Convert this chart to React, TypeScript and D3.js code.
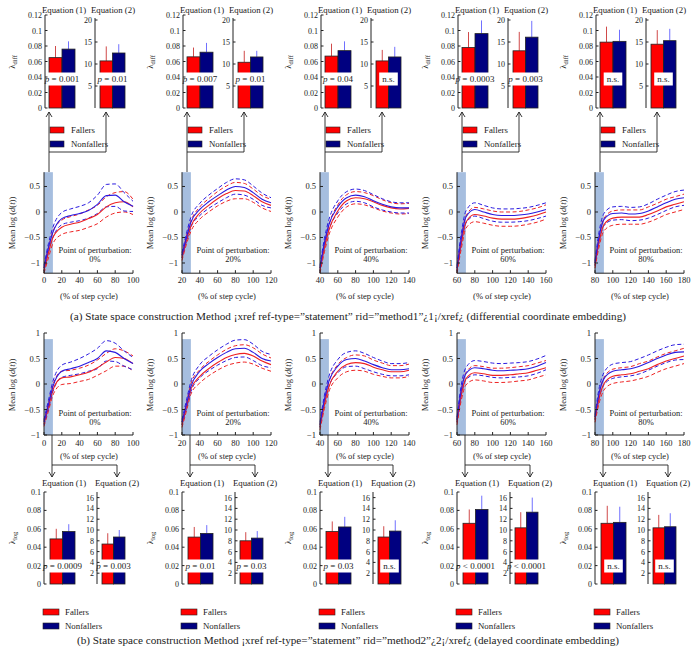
import React from "react";
import * as d3 from "d3";

const W = 696;
const H = 656;
const FONT = "'Liberation Serif', 'DejaVu Serif', serif";

// ---------- shared categories ----------
const perturbStarts = [0, 20, 40, 60, 80];
const perturbLabels = ["0%", "20%", "40%", "60%", "80%"];
const sampleOffsets = [0, 5, 10, 20, 30, 40, 50, 60, 70, 80, 90, 100];
const xTickOffsets = [0, 20, 40, 60, 80, 100];
const seriesNames = ["Fallers", "Nonfallers"];

// ---------- (a) differential embedding: curves ----------
const diffNonfallersMean = [
  [-1.1, -0.7, -0.4, -0.13, -0.07, -0.03, 0.03, 0.15, 0.32, 0.33, 0.2, 0.11],
  [-0.85, -0.5, -0.2, 0.05, 0.2, 0.32, 0.43, 0.5, 0.48, 0.38, 0.25, 0.18],
  [-1.1, -0.6, -0.25, 0.1, 0.28, 0.33, 0.3, 0.22, 0.15, 0.1, 0.08, 0.08],
  [-1.1, -0.5, -0.1, 0.05, 0.0, -0.05, -0.07, -0.07, -0.06, -0.04, 0.0, 0.05],
  [-1.0, -0.45, -0.15, -0.03, -0.02, -0.04, -0.03, 0.02, 0.1, 0.18, 0.25, 0.28],
];
const diffNonfallersSD = [
  [0.05, 0.08, 0.1, 0.12, 0.13, 0.14, 0.15, 0.18, 0.22, 0.22, 0.18, 0.1],
  [0.05, 0.08, 0.1, 0.12, 0.13, 0.14, 0.15, 0.15, 0.15, 0.13, 0.12, 0.1],
  [0.05, 0.08, 0.1, 0.12, 0.12, 0.12, 0.12, 0.12, 0.11, 0.1, 0.1, 0.1],
  [0.05, 0.1, 0.12, 0.13, 0.13, 0.13, 0.13, 0.13, 0.13, 0.13, 0.13, 0.13],
  [0.05, 0.1, 0.12, 0.13, 0.13, 0.13, 0.13, 0.14, 0.15, 0.15, 0.15, 0.15],
];
const diffFallersMean = [
  [-1.15, -0.8, -0.5, -0.3, -0.24, -0.2, -0.13, -0.05, 0.1, 0.18, 0.2, 0.1],
  [-0.9, -0.55, -0.28, -0.02, 0.13, 0.26, 0.36, 0.42, 0.41, 0.32, 0.2, 0.13],
  [-1.15, -0.7, -0.35, 0.02, 0.22, 0.28, 0.26, 0.2, 0.13, 0.08, 0.06, 0.07],
  [-1.15, -0.6, -0.2, -0.05, -0.08, -0.12, -0.14, -0.14, -0.13, -0.1, -0.06, 0.0],
  [-1.05, -0.55, -0.25, -0.12, -0.1, -0.1, -0.1, -0.05, 0.02, 0.1, 0.15, 0.2],
];
const diffFallersSD = [
  [0.05, 0.1, 0.12, 0.14, 0.15, 0.16, 0.17, 0.18, 0.2, 0.2, 0.2, 0.15],
  [0.05, 0.08, 0.1, 0.12, 0.13, 0.14, 0.15, 0.16, 0.15, 0.13, 0.12, 0.12],
  [0.05, 0.08, 0.1, 0.12, 0.12, 0.12, 0.12, 0.12, 0.11, 0.1, 0.1, 0.1],
  [0.05, 0.1, 0.12, 0.14, 0.14, 0.14, 0.14, 0.14, 0.14, 0.14, 0.14, 0.14],
  [0.05, 0.1, 0.12, 0.14, 0.14, 0.14, 0.14, 0.15, 0.15, 0.15, 0.15, 0.15],
];

// ---------- (b) delayed embedding: curves ----------
const logNonfallersMean = [
  [-0.75, -0.4, -0.05, 0.25, 0.3, 0.35, 0.42, 0.5, 0.65, 0.62, 0.5, 0.4],
  [-0.75, -0.4, -0.05, 0.25, 0.4, 0.52, 0.62, 0.69, 0.7, 0.62, 0.5, 0.45],
  [-0.8, -0.3, 0.05, 0.35, 0.48, 0.5, 0.45, 0.38, 0.32, 0.28, 0.28, 0.3],
  [-0.7, -0.1, 0.2, 0.32, 0.3, 0.27, 0.26, 0.27, 0.28, 0.3, 0.35, 0.42],
  [-0.65, -0.15, 0.1, 0.25, 0.28, 0.3, 0.35, 0.42, 0.5, 0.57, 0.62, 0.63],
];
const logNonfallersSD = [
  [0.05, 0.08, 0.1, 0.12, 0.13, 0.15, 0.17, 0.2, 0.2, 0.18, 0.15, 0.12],
  [0.05, 0.08, 0.1, 0.13, 0.14, 0.15, 0.16, 0.17, 0.17, 0.16, 0.14, 0.13],
  [0.05, 0.08, 0.1, 0.13, 0.14, 0.15, 0.15, 0.14, 0.13, 0.12, 0.12, 0.12],
  [0.05, 0.1, 0.12, 0.14, 0.14, 0.14, 0.14, 0.14, 0.14, 0.14, 0.14, 0.14],
  [0.05, 0.1, 0.12, 0.14, 0.14, 0.14, 0.15, 0.15, 0.15, 0.15, 0.15, 0.15],
];
const logFallersMean = [
  [-0.78, -0.45, -0.12, 0.12, 0.14, 0.18, 0.23, 0.32, 0.43, 0.52, 0.5, 0.4],
  [-0.8, -0.45, -0.1, 0.15, 0.3, 0.42, 0.52, 0.58, 0.6, 0.55, 0.45, 0.38],
  [-0.85, -0.4, -0.05, 0.25, 0.38, 0.42, 0.4, 0.33, 0.28, 0.24, 0.24, 0.27],
  [-0.75, -0.2, 0.1, 0.22, 0.2, 0.17, 0.17, 0.18, 0.2, 0.22, 0.27, 0.32],
  [-0.7, -0.25, 0.0, 0.15, 0.18, 0.2, 0.25, 0.3, 0.38, 0.45, 0.5, 0.55],
];
const logFallersSD = [
  [0.05, 0.08, 0.1, 0.13, 0.13, 0.13, 0.14, 0.15, 0.17, 0.17, 0.15, 0.15],
  [0.05, 0.08, 0.1, 0.13, 0.14, 0.15, 0.16, 0.17, 0.17, 0.16, 0.14, 0.13],
  [0.05, 0.08, 0.1, 0.13, 0.14, 0.15, 0.15, 0.14, 0.13, 0.12, 0.12, 0.12],
  [0.05, 0.1, 0.12, 0.14, 0.14, 0.14, 0.14, 0.14, 0.14, 0.14, 0.14, 0.14],
  [0.05, 0.1, 0.12, 0.14, 0.14, 0.14, 0.15, 0.15, 0.15, 0.15, 0.15, 0.15],
];

// ---------- bars: lambda_diff ----------
const diffEq1Fallers = [0.065, 0.066, 0.067, 0.078, 0.085];
const diffEq1FallersErr = [0.08, 0.078, 0.083, 0.098, 0.105];
const diffEq1Nonfallers = [0.076, 0.072, 0.074, 0.096, 0.086];
const diffEq1NonfallersErr = [0.086, 0.084, 0.086, 0.113, 0.101];
const diffEq2Fallers = [10.7, 10.4, 10.7, 13.0, 14.5];
const diffEq2FallersErr = [14.0, 13.0, 13.2, 17.3, 17.7];
const diffEq2Nonfallers = [12.5, 11.6, 11.6, 16.1, 15.3];
const diffEq2NonfallersErr = [14.5, 13.0, 13.9, 19.8, 18.0];
const diffEq1P = ["p = 0.001", "p = 0.007", "p = 0.04", "p = 0.0003", "n.s."];
const diffEq2P = ["p = 0.01", "p = 0.01", "n.s.", "p = 0.003", "n.s."];
const diffEq1Ticks = [0, 0.02, 0.04, 0.06, 0.08, 0.1, 0.12];
const diffEq2Ticks = [5, 10, 15, 20];

// ---------- bars: lambda_log ----------
const logEq1Fallers = [0.049, 0.051, 0.057, 0.066, 0.066];
const logEq1FallersErr = [0.06, 0.062, 0.068, 0.081, 0.085];
const logEq1Nonfallers = [0.057, 0.055, 0.062, 0.081, 0.067];
const logEq1NonfallersErr = [0.065, 0.064, 0.073, 0.096, 0.084];
const logEq2Fallers = [7.4, 8.0, 8.7, 10.4, 10.4];
const logEq2FallersErr = [9.4, 9.6, 10.7, 13.3, 12.8];
const logEq2Nonfallers = [8.7, 8.5, 9.8, 13.3, 10.6];
const logEq2NonfallersErr = [10.0, 9.8, 11.8, 16.0, 13.1];
const logEq1P = ["p = 0.0009", "p = 0.01", "p = 0.03", "p < 0.0001", "n.s."];
const logEq2P = ["p = 0.003", "p = 0.03", "n.s.", "p < 0.0001", "n.s."];
const logEq1Ticks = [0, 0.02, 0.04, 0.06, 0.08, 0.1];
const logEq2Ticks = [2, 4, 6, 8, 10, 12, 14, 16];

const diffLineYTicks = [0.5, 0, -0.5, -1];
const logLineYTicks = [1, 0.5, 0, -0.5, -1];

const captionA =
  "(a)  State space construction Method \u00A1xref ref-type=\u201Dstatement\u201D rid=\u201Dmethod1\u201D\u00BF1\u00A1/xref\u00BF (differential coordinate embedding)";
const captionB =
  "(b)  State space construction Method \u00A1xref ref-type=\u201Dstatement\u201D rid=\u201Dmethod2\u201D\u00BF2\u00A1/xref\u00BF (delayed coordinate embedding)";

// ---------- styles ----------
const RED = "#ee2222";
const BLUE = "#2a1ae0";
const BAR_RED = "#ff0000";
const BAR_BLUE = "#000080";
const ERR_RED = "#d04a4a";
const ERR_BLUE = "#7070ff";
const SHADE = "#a6bedf";
const INK = "#222";
const colX = [44, 182, 320, 457, 595];

const fmtTick = (v: number) => (v < 0 ? "\u2212" + String(-v) : String(v));

function Arrow({ x, y, dir }: { x: number; y: number; dir: "up" | "down" }) {
  const s = dir === "up" ? 1 : -1;
  return (
    <path
      d={`M${x - 3},${y + 5 * s}L${x},${y}L${x + 3},${y + 5 * s}`}
      fill="none"
      stroke={INK}
      strokeWidth={0.9}
    />
  );
}

function LineChart(props: {
  ox: number;
  idx: number;
  fM: number[];
  fS: number[];
  nM: number[];
  nS: number[];
  yDomain: [number, number];
  yRange: [number, number];
  yTicks: number[];
  shadeTop: number;
  tickLabelY: number;
  titleY: number;
  pertY: number;
  ylabY: number;
}) {
  const { ox, idx, fM, fS, nM, nS, yDomain, yRange, yTicks, shadeTop } = props;
  const start = perturbStarts[idx];
  const x = d3.scaleLinear().domain([start, start + 100]).range([ox, ox + 89]);
  const y = d3.scaleLinear().domain(yDomain).range(yRange);
  const xs = sampleOffsets.map((o) => start + o);
  const gen = d3
    .line<[number, number]>()
    .x((d) => x(d[0]))
    .y((d) => y(d[1]))
    .curve(d3.curveMonotoneX);
  const path = (vals: number[]) => gen(xs.map((xv, i) => [xv, vals[i]] as [number, number])) || "";
  const up = (m: number[], s: number[]) => m.map((v, i) => v + s[i]);
  const lo = (m: number[], s: number[]) => m.map((v, i) => v - s[i]);
  const base = y(yDomain[0]);
  return (
    <g>
      <rect x={x(start)} y={y(shadeTop)} width={x(start + 10) - x(start)} height={base - y(shadeTop)} fill={SHADE} />
      <path d={path(up(fM, fS))} fill="none" stroke={RED} strokeWidth={1} strokeDasharray="4,2.5" />
      <path d={path(lo(fM, fS))} fill="none" stroke={RED} strokeWidth={1} strokeDasharray="4,2.5" />
      <path d={path(up(nM, nS))} fill="none" stroke={BLUE} strokeWidth={1} strokeDasharray="4,2.5" />
      <path d={path(lo(nM, nS))} fill="none" stroke={BLUE} strokeWidth={1} strokeDasharray="4,2.5" />
      <path d={path(fM)} fill="none" stroke={RED} strokeWidth={1.1} />
      <path d={path(nM)} fill="none" stroke={BLUE} strokeWidth={1.1} />
      <line x1={ox} x2={ox} y1={base} y2={y(yDomain[1])} stroke={INK} strokeWidth={1} />
      <line x1={ox} x2={ox + 89} y1={base} y2={base} stroke={INK} strokeWidth={1} />
      {yTicks.map((t) => (
        <g key={t}>
          <line x1={ox} x2={ox + 3} y1={y(t)} y2={y(t)} stroke={INK} />
          <text x={ox - 4} y={y(t) + 3} fontSize={8.5} textAnchor="end" fill={INK}>
            {fmtTick(t)}
          </text>
        </g>
      ))}
      {xTickOffsets.map((o) => (
        <g key={o}>
          <line x1={x(start + o)} x2={x(start + o)} y1={base} y2={base - 3} stroke={INK} />
          <text x={x(start + o)} y={props.tickLabelY} fontSize={8.5} textAnchor="middle" fill={INK}>
            {start + o}
          </text>
        </g>
      ))}
      <text x={ox + 45} y={props.titleY} fontSize={8.5} textAnchor="middle" fill={INK}>
        (% of step cycle)
      </text>
      <text x={ox + 51} y={props.pertY} fontSize={8.5} textAnchor="middle" fill={INK}>
        Point of perturbation:
      </text>
      <text x={ox + 51} y={props.pertY + 9} fontSize={8.5} textAnchor="middle" fill={INK}>
        {perturbLabels[idx]}
      </text>
      <text
        transform={`translate(${ox - 29},${props.ylabY}) rotate(-90)`}
        fontSize={8.5}
        textAnchor="middle"
        fill={INK}
      >
        Mean log (<tspan fontStyle="italic">d</tspan>(<tspan fontStyle="italic">t</tspan>))
      </text>
    </g>
  );
}

function BarChart(props: {
  axisX: number;
  barX: number;
  barW: number;
  domain: [number, number];
  range: [number, number];
  axisTop: number;
  ticks: number[];
  vals: [number, number];
  errs: [number, number];
  pLabel: string;
  pY: number;
  title: string;
  titleX: number;
  titleY: number;
}) {
  const { axisX, barX, barW, ticks, vals, errs, pLabel, pY } = props;
  const y = d3.scaleLinear().domain(props.domain).range(props.range);
  const b0 = y(0);
  const colors = [BAR_RED, BAR_BLUE];
  const errColors = [ERR_RED, ERR_BLUE];
  const cx = barX + barW;
  const isP = pLabel.startsWith("p");
  const boxW = pLabel.length * 3.9 + 3;
  return (
    <g>
      {vals.map((v, i) => (
        <g key={i}>
          <line
            x1={barX + barW * i + barW / 2}
            x2={barX + barW * i + barW / 2}
            y1={y(v)}
            y2={y(errs[i])}
            stroke={errColors[i]}
            strokeWidth={1}
          />
          <rect x={barX + barW * i} y={y(v)} width={barW} height={b0 - y(v)} fill={colors[i]} stroke={INK} strokeWidth={0.8} />
        </g>
      ))}
      <rect x={cx - boxW / 2} y={pY - 6.5} width={boxW} height={13} fill="#fff" />
      <text x={cx} y={pY + 3} fontSize={9} textAnchor="middle" fill={INK}>
        {isP ? (
          <>
            <tspan fontStyle="italic">p</tspan>
            {pLabel.slice(1)}
          </>
        ) : (
          pLabel
        )}
      </text>
      <line x1={axisX} x2={axisX} y1={b0} y2={props.axisTop} stroke={INK} strokeWidth={1} />
      {ticks.map((t) => (
        <g key={t}>
          <line x1={axisX} x2={axisX + 2.5} y1={y(t)} y2={y(t)} stroke={INK} />
          <text x={axisX - 3} y={y(t) + 3} fontSize={8} textAnchor="end" fill={INK}>
            {String(t)}
          </text>
        </g>
      ))}
      <text x={props.titleX} y={props.titleY} fontSize={8.8} textAnchor="middle" fill={INK}>
        {props.title}
      </text>
    </g>
  );
}

function Legend({ x, y, sw, gap, textDx }: { x: number; y: number; sw: number; gap: number; textDx: number }) {
  const cols = [BAR_RED, BAR_BLUE];
  return (
    <g>
      {seriesNames.map((n, i) => (
        <g key={n}>
          <rect x={x} y={y + i * gap} width={sw} height={6} fill={cols[i]} stroke={INK} strokeWidth={0.6} />
          <text x={x + textDx} y={y + i * gap + 6} fontSize={8.8} fill={INK}>
            {n}
          </text>
        </g>
      ))}
    </g>
  );
}

function LambdaLabel({ x, y, sub }: { x: number; y: number; sub: string }) {
  return (
    <text transform={`translate(${x},${y}) rotate(-90)`} fontSize={9} textAnchor="middle" fill={INK}>
      λ<tspan fontSize={6.5} dy={2}>{sub}</tspan>
    </text>
  );
}

export default function App() {
  return (
    <svg
      width={W}
      height={H}
      style={{ position: "absolute", left: 0, top: 0, background: "#fff" }}
      fontFamily={FONT}
    >
      <rect width={W} height={H} fill="#fff" />
      {colX.map((ox, i) => (
        <g key={"a" + i}>
          <BarChart
            axisX={ox + 1}
            barX={ox + 5}
            barW={13}
            domain={[0, 0.12]}
            range={[108, 15]}
            axisTop={15}
            ticks={diffEq1Ticks}
            vals={[diffEq1Fallers[i], diffEq1Nonfallers[i]]}
            errs={[diffEq1FallersErr[i], diffEq1NonfallersErr[i]]}
            pLabel={diffEq1P[i]}
            pY={79}
            title="Equation (1)"
            titleX={ox + 20}
            titleY={13}
          />
          <BarChart
            axisX={ox + 51}
            barX={ox + 56}
            barW={12.5}
            domain={[0, 20]}
            range={[108, 20]}
            axisTop={18}
            ticks={diffEq2Ticks}
            vals={[diffEq2Fallers[i], diffEq2Nonfallers[i]]}
            errs={[diffEq2FallersErr[i], diffEq2NonfallersErr[i]]}
            pLabel={diffEq2P[i]}
            pY={79}
            title="Equation (2)"
            titleX={ox + 69}
            titleY={13}
          />
          <LambdaLabel x={ox - 29} y={62} sub="diff" />
          <path
            d={`M${ox + 5},${172}V${112}M${ox + 5},${152}H${ox + 62}V${112}`}
            fill="none"
            stroke={INK}
            strokeWidth={0.9}
          />
          <Arrow x={ox + 5} y={112} dir="up" />
          <Arrow x={ox + 62} y={112} dir="up" />
          <Legend x={ox + 6} y={127} sw={14} gap={14} textDx={21} />
          <LineChart
            ox={ox}
            idx={i}
            fM={diffFallersMean[i]}
            fS={diffFallersSD[i]}
            nM={diffNonfallersMean[i]}
            nS={diffNonfallersSD[i]}
            yDomain={[-1.2, 0.78]}
            yRange={[273.2, 172.2]}
            yTicks={diffLineYTicks}
            shadeTop={0.78}
            tickLabelY={283}
            titleY={299}
            pertY={253}
            ylabY={223}
          />
          <LineChart
            ox={ox}
            idx={i}
            fM={logFallersMean[i]}
            fS={logFallersSD[i]}
            nM={logNonfallersMean[i]}
            nS={logNonfallersSD[i]}
            yDomain={[-1, 1]}
            yRange={[435, 333]}
            yTicks={logLineYTicks}
            shadeTop={0.88}
            tickLabelY={446}
            titleY={459}
            pertY={416}
            ylabY={385}
          />
          <path
            d={`M${ox + 8},${435}V${477}M${ox + 8},${465}H${ox + 73}V${477}`}
            fill="none"
            stroke={INK}
            strokeWidth={0.9}
          />
          <Arrow x={ox + 8} y={477} dir="down" />
          <Arrow x={ox + 73} y={477} dir="down" />
          <BarChart
            axisX={ox}
            barX={ox + 6}
            barW={12.5}
            domain={[0, 0.1]}
            range={[584, 492]}
            axisTop={492}
            ticks={logEq1Ticks}
            vals={[logEq1Fallers[i], logEq1Nonfallers[i]]}
            errs={[logEq1FallersErr[i], logEq1NonfallersErr[i]]}
            pLabel={logEq1P[i]}
            pY={566}
            title="Equation (1)"
            titleX={ox + 20}
            titleY={486}
          />
          <BarChart
            axisX={ox + 53}
            barX={ox + 58}
            barW={11.5}
            domain={[0, 16]}
            range={[584, 497.6]}
            axisTop={492}
            ticks={logEq2Ticks}
            vals={[logEq2Fallers[i], logEq2Nonfallers[i]]}
            errs={[logEq2FallersErr[i], logEq2NonfallersErr[i]]}
            pLabel={logEq2P[i]}
            pY={566}
            title="Equation (2)"
            titleX={ox + 73}
            titleY={486}
          />
          <LambdaLabel x={ox - 29} y={538} sub="log" />
          <Legend x={ox - 1} y={609} sw={16} gap={14} textDx={22} />
        </g>
      ))}
      <text x={348} y={320} fontSize={11.2} textAnchor="middle" fill={INK}>
        {captionA}
      </text>
      <text x={348} y={644} fontSize={11.2} textAnchor="middle" fill={INK}>
        {captionB}
      </text>
    </svg>
  );
}
